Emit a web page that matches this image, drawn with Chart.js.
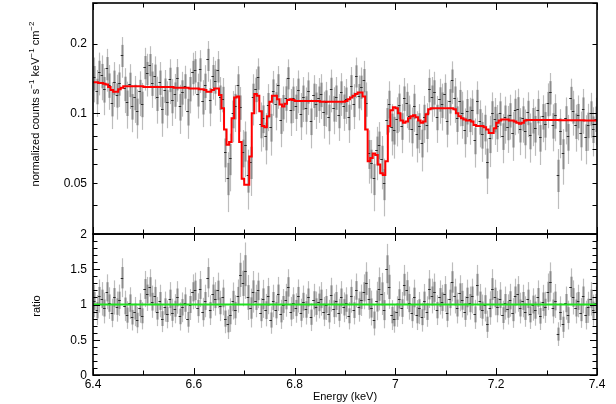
<!DOCTYPE html>
<html lang="en">
<head>
  <meta charset="UTF-8">
  <title>Fe K spectrum and ratio</title>
  <script src="https://cdn.jsdelivr.net/npm/chart.js"></script>
  <style>
    html, body { margin: 0; padding: 0; background: #fff; }
    #wrap { position: relative; width: 616px; height: 404px; }
    #top { position: absolute; left: 0; top: 0; }
    #bot { position: absolute; left: 0; top: 220px; }
  </style>
</head>
<body>
  <div id="wrap">
    <canvas id="top" width="616" height="236"></canvas>
    <canvas id="bot" width="616" height="184"></canvas>
  </div>
  <script>
    // energy grid: 200 bins of 5 eV between 6.4 and 7.4 keV
    const binStart = 6.4;
    const binWidth = 0.005;

    // model (red), normalized counts s-1 keV-1 cm-2, one value per bin
    const model = [
      0.136,0.136,0.135,0.135,0.134,0.133,0.130,0.126,0.124,0.124,
      0.127,0.129,0.131,0.131,0.131,0.131,0.131,0.131,0.131,0.131,
      0.130,0.130,0.130,0.130,0.130,0.130,0.130,0.130,0.130,0.130,
      0.130,0.130,0.129,0.129,0.129,0.129,0.129,0.129,0.128,0.128,
      0.128,0.128,0.127,0.127,0.126,0.124,0.124,0.126,0.128,0.128,
      0.120,0.105,0.085,0.073,0.075,0.095,0.117,0.118,0.075,0.052,
      0.049,0.049,0.065,0.100,0.121,0.119,0.102,0.088,0.087,0.097,
      0.112,0.119,0.119,0.115,0.109,0.107,0.110,0.114,0.115,0.114,
      0.113,0.113,0.113,0.113,0.113,0.113,0.113,0.113,0.113,0.113,
      0.112,0.112,0.112,0.112,0.112,0.112,0.112,0.112,0.112,0.112,
      0.113,0.115,0.117,0.119,0.121,0.123,0.123,0.118,0.085,0.062,
      0.064,0.067,0.066,0.060,0.055,0.054,0.062,0.088,0.103,0.106,
      0.105,0.100,0.093,0.091,0.092,0.095,0.097,0.098,0.096,0.093,
      0.091,0.092,0.099,0.104,0.105,0.105,0.105,0.105,0.105,0.105,
      0.105,0.105,0.105,0.104,0.100,0.097,0.095,0.094,0.093,0.093,
      0.092,0.089,0.088,0.088,0.088,0.087,0.085,0.082,0.082,0.086,
      0.091,0.093,0.094,0.094,0.094,0.093,0.093,0.092,0.091,0.090,
      0.091,0.093,0.0935,0.0935,0.0935,0.0935,0.0935,0.0935,0.0935,0.0935,
      0.0935,0.0935,0.0935,0.0935,0.0935,0.0933,0.0933,0.0933,0.0933,0.0933,
      0.0932,0.0932,0.0932,0.0932,0.0932,0.0930,0.0930,0.0930,0.0930,0.0930
    ];

    // data / model ratio, one value per bin (lower panel)
    const ratio = [
      1.05,0.92,1.12,1.08,0.95,1.18,1.02,0.88,1.10,0.97,
      1.06,1.38,0.98,0.85,1.02,0.82,0.90,0.78,0.95,0.84,
      1.22,1.15,1.25,1.04,1.12,0.90,1.05,0.80,0.97,0.86,
      1.08,0.88,0.94,1.10,0.83,0.96,1.02,0.79,1.00,1.18,
      1.20,0.95,1.22,0.89,1.05,1.38,0.92,1.15,1.08,1.20,
      0.98,1.10,0.80,0.72,0.85,1.05,0.92,1.12,1.42,1.30,
      1.48,1.10,0.95,1.18,1.05,1.20,0.88,1.08,0.92,1.12,
      0.78,1.05,0.92,1.15,0.86,1.00,1.06,1.25,0.90,1.02,
      0.95,1.12,0.88,1.04,0.93,1.10,0.82,1.06,0.97,1.03,
      1.08,0.90,1.00,0.86,1.14,0.94,1.05,0.88,1.10,0.96,
      1.02,0.84,1.12,0.92,1.20,0.97,1.06,1.18,1.30,1.08,
      0.95,0.78,1.05,1.22,1.15,0.92,1.50,1.25,0.85,0.80,
      0.90,1.08,0.95,1.28,1.20,1.02,0.88,1.10,0.85,0.95,
      0.82,1.05,0.90,1.22,1.12,1.18,0.92,1.10,1.04,1.15,
      0.88,1.08,1.32,1.12,0.95,1.16,1.06,0.90,1.10,1.02,
      1.12,0.86,1.28,1.05,0.92,1.00,0.72,0.95,1.22,1.10,
      0.97,1.08,0.85,1.02,0.93,1.06,0.88,1.12,1.15,0.95,
      1.05,0.90,1.08,0.86,1.00,0.92,1.10,0.84,1.04,0.96,
      1.18,1.32,0.95,1.05,0.58,0.90,0.72,1.02,0.85,1.25,
      1.10,0.95,1.05,0.88,1.12,0.85,0.96,1.08,0.92,1.02
    ];

    // 1-sigma relative error per bin
    const relErr = [
      .22,.23,.21,.22,.23,.21,.22,.23,.22,.22,
      .21,.20,.22,.23,.22,.23,.23,.24,.22,.23,
      .21,.21,.20,.22,.21,.23,.22,.24,.22,.23,
      .22,.23,.22,.21,.24,.22,.22,.24,.22,.21,
      .21,.22,.21,.23,.22,.20,.23,.21,.22,.21,
      .22,.23,.26,.29,.28,.25,.23,.21,.22,.25,
      .27,.29,.29,.25,.22,.21,.24,.25,.25,.23,
      .25,.22,.23,.21,.24,.22,.22,.20,.23,.22,
      .22,.21,.23,.22,.23,.21,.24,.22,.22,.22,
      .22,.23,.22,.24,.21,.23,.22,.23,.21,.22,
      .22,.23,.21,.22,.20,.22,.21,.21,.23,.26,
      .26,.28,.26,.25,.26,.28,.24,.25,.25,.25,
      .24,.23,.24,.22,.22,.23,.24,.23,.25,.24,
      .25,.23,.24,.22,.22,.22,.23,.22,.23,.22,
      .23,.22,.21,.22,.23,.22,.23,.24,.23,.23,
      .22,.24,.22,.23,.24,.24,.27,.25,.23,.23,
      .23,.22,.24,.23,.23,.22,.24,.22,.22,.23,
      .22,.24,.22,.24,.23,.24,.22,.24,.23,.23,
      .22,.21,.23,.23,.29,.24,.27,.23,.24,.21,
      .22,.23,.22,.24,.22,.24,.23,.22,.24,.23
    ];

    const unity = 1;
    const energyTicks = [6.4, 6.6, 6.8, 7, 7.2, 7.4];
    const energyMinor = [6.5, 6.7, 6.9, 7.1, 7.3];
    const fluxTicks = [0.05, 0.1, 0.2];
    const fluxMajor = [0.1];
    const fluxMinor = [0.03, 0.04, 0.05, 0.06, 0.07, 0.08, 0.09, 0.2, 0.3];
    const ratioTicks = [0, 0.5, 1, 1.5, 2];
    const ratioMinor = [0.1,0.2,0.3,0.4,0.6,0.7,0.8,0.9,1.1,1.2,1.3,1.4,1.6,1.7,1.8,1.9];

    const FONT = '"Liberation Sans", Arial, sans-serif';

    // derived quantities
    const energy = model.map((_, i) => binStart + binWidth * (i + 0.5));
    const flux = ratio.map((r, i) => r * model[i]);
    const fluxErr = flux.map((f, i) => f * relErr[i]);
    const ratioErr = ratio.map((r, i) => r * relErr[i]);

    function seg(ctx, x1, y1, x2, y2) {
      ctx.beginPath(); ctx.moveTo(x1, y1); ctx.lineTo(x2, y2); ctx.stroke();
    }

    // data crosses: grey error bar + dark bin-width mark
    function crossPlugin(values, errors) {
      return {
        id: 'crosses',
        beforeDatasetsDraw(chart) {
          const { ctx, chartArea: a, scales: { x, y } } = chart;
          ctx.save();
          ctx.beginPath();
          ctx.rect(a.left, a.top, a.right - a.left, a.bottom - a.top);
          ctx.clip();
          values.forEach((v, i) => {
            const px = Math.round(x.getPixelForValue(energy[i])) + 0.5;
            const e = errors[i];
            ctx.strokeStyle = '#bdbdbd'; ctx.lineWidth = 1.2;
            seg(ctx, px, y.getPixelForValue(v - e), px, y.getPixelForValue(v + e));
          });
          values.forEach((v, i) => {
            const px = Math.round(x.getPixelForValue(energy[i])) + 0.5;
            const e = errors[i];
            ctx.strokeStyle = '#8c8c8c'; ctx.lineWidth = 2;
            seg(ctx, px, y.getPixelForValue(v - e * 0.55), px, y.getPixelForValue(v + e * 0.55));
          });
          ctx.strokeStyle = '#2a2a2a'; ctx.lineWidth = 1;
          values.forEach((v, i) => {
            const py = Math.round(y.getPixelForValue(v)) + 0.5;
            seg(ctx, x.getPixelForValue(binStart + binWidth * i), py,
                x.getPixelForValue(binStart + binWidth * (i + 1)), py);
          });
          ctx.restore();
        }
      };
    }

    // frame with inward ticks on all four sides, plus tick labels
    function framePlugin(yLabels, yMajor, yMinor, showX) {
      return {
        id: 'frame',
        afterDraw(chart) {
          const { ctx, chartArea: a, scales: { x, y } } = chart;
          ctx.save();
          ctx.strokeStyle = '#000';
          ctx.lineWidth = 1;
          const tx = (vals, len) => vals.forEach(v => {
            const px = Math.round(x.getPixelForValue(v)) + 0.5;
            seg(ctx, px, a.top, px, a.top + len);
            seg(ctx, px, a.bottom, px, a.bottom - len);
          });
          const ty = (vals, len) => vals.forEach(v => {
            const py = Math.round(y.getPixelForValue(v)) + 0.5;
            seg(ctx, a.left, py, a.left + len, py);
            seg(ctx, a.right, py, a.right - len, py);
          });
          tx(energyTicks, 7); tx(energyMinor, 4.5);
          ty(yMajor, 7); ty(yMinor, 4.5);
          ctx.lineWidth = 1.6;
          ctx.strokeRect(a.left, a.top, a.right - a.left, a.bottom - a.top);

          ctx.fillStyle = '#000';
          ctx.font = '12px ' + FONT;
          ctx.textAlign = 'right';
          ctx.textBaseline = 'middle';
          yLabels.forEach(v => ctx.fillText(String(v), a.left - 6, y.getPixelForValue(v) + 0.5));
          if (showX) {
            ctx.textAlign = 'center';
            energyTicks.forEach(v => ctx.fillText(String(v), x.getPixelForValue(v), a.bottom + 10));
          }
          ctx.restore();
        }
      };
    }

    // text with superscripts, centred at (cx, cy)
    function drawRich(ctx, parts, cx, cy, size) {
      const big = size + 'px ' + FONT;
      const small = Math.round(size * 0.72) + 'px ' + FONT;
      let w = 0;
      parts.forEach(p => { ctx.font = p[1] ? small : big; w += ctx.measureText(p[0]).width; });
      let px = cx - w / 2;
      ctx.textAlign = 'left';
      ctx.textBaseline = 'middle';
      parts.forEach(p => {
        ctx.font = p[1] ? small : big;
        ctx.fillText(p[0], px, p[1] ? cy - size * 0.38 : cy);
        px += ctx.measureText(p[0]).width;
      });
    }

    const titlesTop = {
      id: 'titlesTop',
      afterDraw(chart) {
        const ctx = chart.ctx;
        ctx.save();
        ctx.fillStyle = '#000';
        ctx.translate(36, 104);
        ctx.rotate(-Math.PI / 2);
        drawRich(ctx, [['normalized counts s', false], ['\u22121', true], [' keV', false],
                       ['\u22121', true], [' cm', false], ['\u22122', true]], 0, 0, 11);
        ctx.restore();
      }
    };

    const titlesBot = {
      id: 'titlesBot',
      afterDraw(chart) {
        const ctx = chart.ctx;
        ctx.save();
        ctx.fillStyle = '#000';
        ctx.font = '11px ' + FONT;
        ctx.textAlign = 'center';
        ctx.textBaseline = 'middle';
        ctx.fillText('Energy (keV)', 345, 177);
        ctx.translate(37, 86);
        ctx.rotate(-Math.PI / 2);
        ctx.fillText('ratio', 0, 0);
        ctx.restore();
      }
    };

    const edgeModel = [{ x: binStart, y: model[0] }]
      .concat(model.map((m, i) => ({ x: energy[i], y: m })))
      .concat([{ x: binStart + binWidth * model.length, y: model[model.length - 1] }]);

    const xScale = { type: 'linear', min: 6.4, max: 7.4, display: false };

    new Chart(document.getElementById('top').getContext('2d'), {
      type: 'line',
      data: {
        datasets: [{
          data: edgeModel, stepped: 'middle', borderColor: '#ff0000',
          borderWidth: 2, pointRadius: 0, fill: false
        }]
      },
      options: {
        responsive: false, animation: false,
        layout: { padding: { top: 3, right: 19, bottom: 2, left: 93 } },
        plugins: { legend: { display: false }, tooltip: { enabled: false } },
        scales: {
          x: xScale,
          y: { type: 'logarithmic', min: 0.03, max: 0.3, display: false }
        }
      },
      plugins: [crossPlugin(flux, fluxErr), framePlugin(fluxTicks, fluxMajor, fluxMinor, false), titlesTop]
    });

    new Chart(document.getElementById('bot').getContext('2d'), {
      type: 'line',
      data: {
        datasets: [{
          data: [{ x: 6.4, y: unity }, { x: 7.4, y: unity }],
          borderColor: '#1ee01e', borderWidth: 2.2, pointRadius: 0, fill: false
        }]
      },
      options: {
        responsive: false, animation: false,
        layout: { padding: { top: 14, right: 19, bottom: 29, left: 93 } },
        plugins: { legend: { display: false }, tooltip: { enabled: false } },
        scales: {
          x: xScale,
          y: { type: 'linear', min: 0, max: 2, display: false }
        }
      },
      plugins: [crossPlugin(ratio, ratioErr), framePlugin(ratioTicks, ratioTicks, ratioMinor, true), titlesBot]
    });
  </script>
</body>
</html>
